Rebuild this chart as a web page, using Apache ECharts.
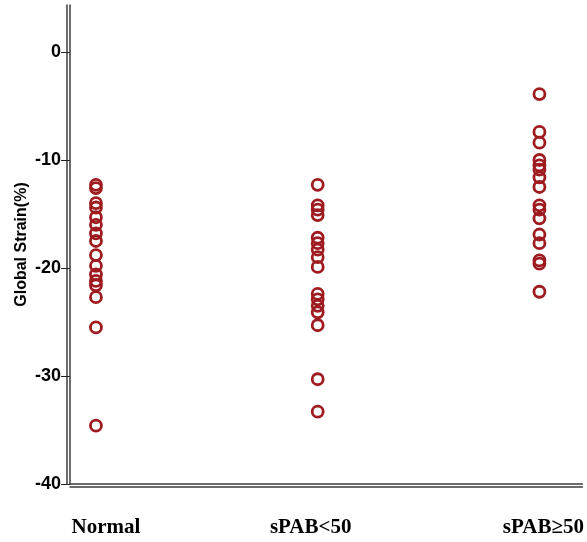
<!DOCTYPE html>
<html>
<head>
<meta charset="utf-8">
<script src="https://cdn.jsdelivr.net/npm/echarts@6/dist/echarts.min.js"></script>
<style>
  html, body { margin: 0; padding: 0; background: #fff; }
  #chart { width: 587px; height: 542px; }
</style>
</head>
<body>
<div id="chart"></div>
<script>
// groups and y tick labels
var categories = ['Normal', 'sPAB<50', 'sPAB\u226550'];
var yTicks = [-40, -30, -20, -10, 0];

// global strain values, one array per group
var normalValues = [-12.3, -12.6, -14.0, -14.4, -15.3, -16.0, -16.8, -17.5, -18.8, -19.8, -20.6, -21.2, -21.6, -22.7, -25.5, -34.6];
var spabLowValues = [-12.3, -14.2, -14.6, -15.1, -17.2, -17.7, -18.3, -19.0, -19.9, -22.4, -22.9, -23.5, -24.1, -25.3, -30.3, -33.3];
var spabHighValues = [-3.9, -7.4, -8.4, -10.0, -10.5, -10.9, -11.6, -12.5, -14.2, -14.6, -15.4, -16.9, -17.7, -19.3, -19.6, -22.2];

var groups = [normalValues, spabLowValues, spabHighValues];

var myChart = echarts.init(document.getElementById('chart'));

var lineColor = '#3c3c3c';

// a bare extra axis, drawn 3px out, gives the double rule of the original
function outerLine(pos, min, max) {
    return {
        type: 'value',
        position: pos,
        min: min,
        max: max,
        offset: 3,
        splitLine: { show: false },
        axisLine: { show: true, onZero: false, lineStyle: { color: lineColor, width: 1.5 } },
        axisTick: { show: false },
        axisLabel: { show: false }
    };
}

var labelStyle = {
    fontFamily: 'Liberation Serif',
    fontWeight: 'bold',
    fontSize: 21,
    color: '#000'
};

var option = {
    animation: false,
    grid: {
        left: 70,
        right: 4,
        top: 5,
        bottom: 58
    },
    xAxis: [{
        type: 'value',
        position: 'bottom',
        min: -0.117,
        max: 2.194,
        splitLine: { show: false },
        axisLine: { show: true, onZero: false, lineStyle: { color: lineColor, width: 1.5 } },
        axisTick: { show: false },
        axisLabel: {
            customValues: [0, 1, 2],
            margin: 33,
            formatter: function (v) {
                var i = Math.round(v);
                return '{c' + i + '|' + categories[i] + '}';
            },
            rich: {
                c0: Object.assign({ padding: [0, 0, 0, 20] }, labelStyle),
                c1: Object.assign({ padding: [0, 14, 0, 0] }, labelStyle),
                c2: Object.assign({ padding: [0, 0, 0, 8] }, labelStyle)
            }
        }
    }, outerLine('bottom', -0.117, 2.194)],
    yAxis: [{
        type: 'value',
        position: 'left',
        min: -40,
        max: 4.35,
        name: 'Global Strain(%)',
        nameLocation: 'middle',
        nameGap: 40,
        nameMoveOverlap: false,
        nameTextStyle: {
            fontFamily: 'Liberation Sans',
            fontWeight: 'bold',
            fontSize: 16,
            color: '#000'
        },
        splitLine: { show: false },
        axisLine: { show: true, onZero: false, lineStyle: { color: lineColor, width: 1.5 } },
        axisTick: {
            show: true,
            length: 9,
            customValues: yTicks,
            lineStyle: { color: '#222', width: 1 }
        },
        axisLabel: {
            customValues: yTicks,
            margin: 9,
            fontFamily: 'Liberation Sans',
            fontWeight: 'bold',
            fontSize: 18,
            color: '#000'
        }
    }, outerLine('left', -40, 4.35)],
    series: groups.map(function (vals, i) {
        return {
            name: categories[i],
            type: 'scatter',
            symbol: 'circle',
            symbolSize: 11,
            itemStyle: {
                color: 'rgba(0,0,0,0)',
                borderColor: '#9e1b20',
                borderWidth: 2.8,
                opacity: 1
            },
            data: vals.map(function (v) { return [i, v]; })
        };
    })
};

myChart.setOption(option);
</script>
</body>
</html>
